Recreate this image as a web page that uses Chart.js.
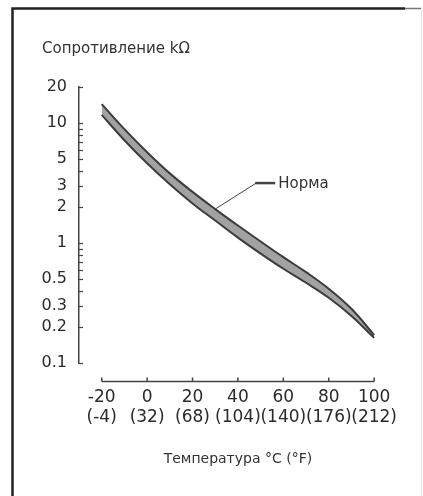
<!DOCTYPE html>
<html>
<head>
<meta charset="utf-8">
<style>
  html, body { margin: 0; padding: 0; background: #fff; }
  canvas { display: block; }
</style>
<script src="https://cdn.jsdelivr.net/npm/chart.js@4.4.1/dist/chart.umd.min.js"></script>
</head>
<body>
<canvas id="c" width="423" height="496"></canvas>
<script>
// ---- data ----
const temps = [-20, -10, 0, 10, 20, 30, 40, 50, 60, 70, 80, 90, 100];
const upperLimit = [14.4, 8.9, 5.72, 3.81, 2.67, 1.92, 1.40, 1.03, 0.763, 0.572, 0.416, 0.283, 0.171];
const lowerLimit = [11.7, 7.2, 4.62, 3.09, 2.14, 1.54, 1.11, 0.817, 0.611, 0.467, 0.350, 0.247, 0.162];

const xTickValues = [-20, 0, 20, 40, 60, 80, 100];
const xTickC = ['-20', '0', '20', '40', '60', '80', '100'];
const xTickF = ['(-4)', '(32)', '(68)', '(104)', '(140)', '(176)', '(212)'];

const yTickValues = [0.1, 0.2, 0.3, 0.5, 1, 2, 3, 5, 10, 20];
const yTickLabels = ['0.1', '0.2', '0.3', '0.5', '1', '2', '3', '5', '10', '20'];
const yMinorTicks = [0.1, 0.2, 0.3, 0.4, 0.5, 0.6, 0.7, 0.8, 0.9, 1, 2, 3, 4, 5, 6, 7, 8, 9, 10, 20];

const yTitle = 'Сопротивление kΩ';
const xTitle = 'Температура °C (°F)';
const normLabel = 'Норма';
const normAtTemp = 30;

const FONT = '"DejaVu Sans", "Liberation Sans", Arial, sans-serif';
const INK = '#333';

const decor = {
  id: 'decor',
  beforeDraw(chart) {
    const ctx = chart.ctx;
    ctx.save();
    ctx.fillStyle = '#fff';
    ctx.fillRect(0, 0, chart.width, chart.height);
    // scanned frame
    ctx.strokeStyle = '#222';
    ctx.lineWidth = 2.5;
    ctx.beginPath();
    ctx.moveTo(12.5, 496); ctx.lineTo(12.5, 8.5); ctx.lineTo(405, 8.5);
    ctx.stroke();
    ctx.strokeStyle = '#777';
    ctx.lineWidth = 1.5;
    ctx.beginPath();
    ctx.moveTo(405, 8.5); ctx.lineTo(421, 8.5);
    ctx.stroke();
    ctx.strokeStyle = '#e4e4e4';
    ctx.lineWidth = 1;
    ctx.beginPath();
    ctx.moveTo(421.5, 8); ctx.lineTo(421.5, 496);
    ctx.stroke();
    ctx.restore();
  },
  afterDraw(chart) {
    const { ctx, chartArea } = chart;
    const xs = chart.scales.x, ys = chart.scales.y;
    ctx.save();
    // y axis minor/major tick marks pointing inward
    ctx.strokeStyle = '#444';
    ctx.lineWidth = 1.2;
    yMinorTicks.forEach(v => {
      const py = Math.round(ys.getPixelForValue(v)) + 0.5;
      ctx.beginPath();
      ctx.moveTo(chartArea.left - 1, py);
      ctx.lineTo(chartArea.left + 4, py);
      ctx.stroke();
    });
    // separate x axis line with upward ticks
    const ay = chartArea.bottom + 18.5;
    const xa = xs.getPixelForValue(xTickValues[0]);
    const xb = xs.getPixelForValue(xTickValues[xTickValues.length - 1]);
    ctx.lineWidth = 1.5;
    ctx.beginPath();
    ctx.moveTo(xa, ay); ctx.lineTo(xb, ay);
    ctx.stroke();
    xTickValues.forEach(v => {
      const px = xs.getPixelForValue(v);
      ctx.beginPath();
      ctx.moveTo(px, ay); ctx.lineTo(px, ay - 4);
      ctx.stroke();
    });
    // titles
    ctx.fillStyle = INK;
    ctx.textBaseline = 'middle';
    ctx.textAlign = 'left';
    ctx.font = '15px ' + FONT;
    ctx.fillText(yTitle, 42, 49);
    ctx.textAlign = 'center';
    ctx.font = '14px ' + FONT;
    ctx.fillText(xTitle, (xa + xb) / 2, 459);
    // "Норма" leader
    const i = temps.indexOf(normAtTemp);
    const px = xs.getPixelForValue(normAtTemp);
    const py = ys.getPixelForValue(upperLimit[i]);
    ctx.strokeStyle = '#444';
    ctx.lineWidth = 1;
    ctx.beginPath();
    ctx.moveTo(px, py); ctx.lineTo(px + 41, py - 26);
    ctx.stroke();
    ctx.lineWidth = 2.5;
    ctx.beginPath();
    ctx.moveTo(px + 40, py - 26); ctx.lineTo(px + 60, py - 26);
    ctx.stroke();
    ctx.textAlign = 'left';
    ctx.font = '15px ' + FONT;
    ctx.fillText(normLabel, px + 63, py - 25);
    ctx.restore();
  }
};

new Chart(document.getElementById('c'), {
  type: 'line',
  data: {
    labels: temps,
    datasets: [
      {
        label: 'upper',
        data: temps.map((t, k) => ({ x: t, y: upperLimit[k] })),
        borderColor: '#3c3c3c',
        borderWidth: 2,
        pointRadius: 0,
        fill: false,
        tension: 0.4
      },
      {
        label: 'lower',
        data: temps.map((t, k) => ({ x: t, y: lowerLimit[k] })),
        borderColor: '#3c3c3c',
        borderWidth: 2,
        pointRadius: 0,
        fill: '-1',
        backgroundColor: '#a2a2a2',
        tension: 0.4
      }
    ]
  },
  options: {
    responsive: false,
    animation: false,
    devicePixelRatio: 1,
    layout: { padding: { top: 87, right: 14, bottom: 0, left: 0 } },
    plugins: { legend: { display: false }, tooltip: { enabled: false } },
    scales: {
      x: {
        type: 'linear',
        min: -30,
        max: 110,
        grid: { display: false, drawTicks: false },
        border: { display: false },
        afterBuildTicks: s => { s.ticks = xTickValues.map(v => ({ value: v })); },
        afterFit: s => { s.height = 133; },
        ticks: {
          autoSkip: false,
          maxRotation: 0,
          padding: 25,
          color: '#2a2a2a',
          font: { family: FONT, size: 17, lineHeight: 1.15 },
          callback: (v, idx) => [xTickC[idx], xTickF[idx]]
        }
      },
      y: {
        type: 'logarithmic',
        min: 0.1,
        max: 20,
        grid: { display: false, drawTicks: false },
        border: { display: true, color: '#444', width: 1.5 },
        afterBuildTicks: s => { s.ticks = yTickValues.map(v => ({ value: v })); },
        afterFit: s => { s.width = 79; },
        ticks: {
          autoSkip: false,
          padding: 12,
          color: '#2a2a2a',
          font: { family: FONT, size: 16 },
          callback: (v, idx) => yTickLabels[idx]
        }
      }
    }
  },
  plugins: [decor]
});
</script>
</body>
</html>
